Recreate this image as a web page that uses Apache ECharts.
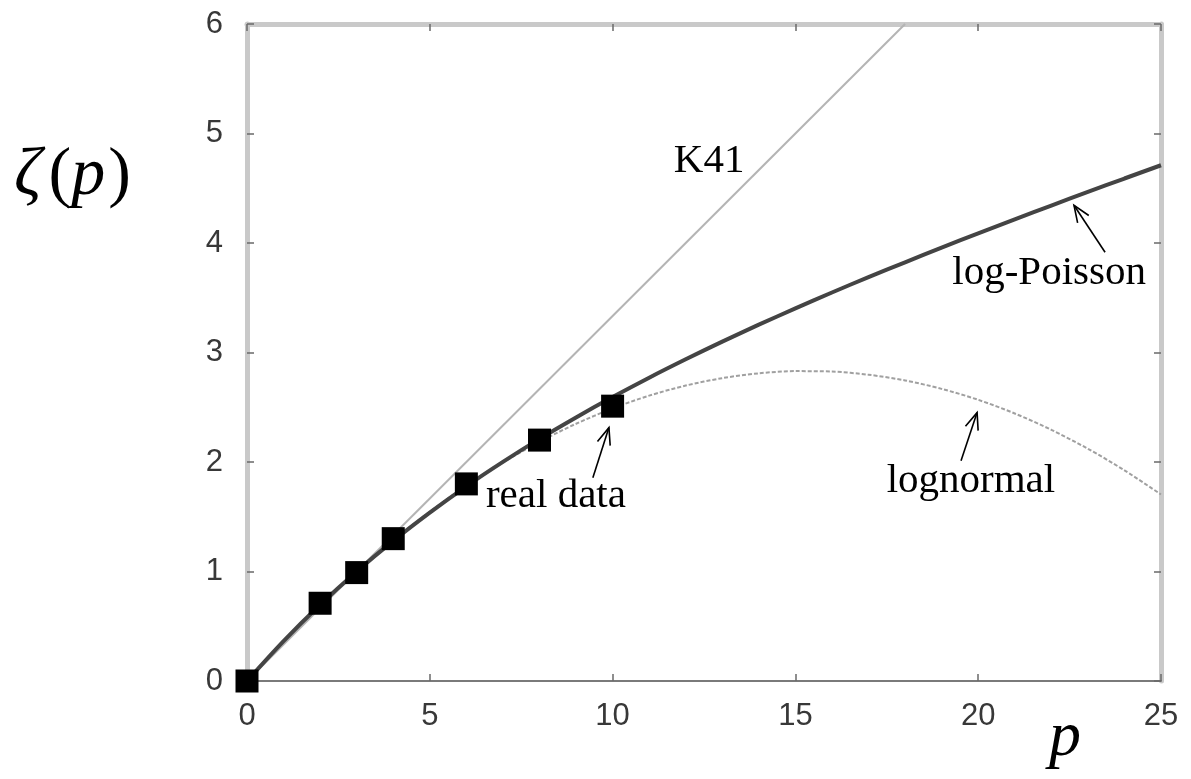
<!DOCTYPE html>
<html>
<head>
<meta charset="utf-8">
<style>
html,body{margin:0;padding:0;background:#fff}
#chart{width:1191px;height:779px}
</style>
<script src="https://cdn.jsdelivr.net/npm/echarts@6/dist/echarts.min.js"></script>
</head>
<body>
<div id="chart"></div>
<script>
// Moment order p for the model curves
const pGrid = [0,1,2,3,4,5,6,7,8,9,10,11,12,13,14,15,16,17,18,19,20,21,22,23,24,25];
// log-Poisson scaling exponents
const logPoisson = [0,0.364,0.696,1.000,1.280,1.538,1.778,2.001,2.211,2.407,2.593,2.770,2.938,3.099,3.254,3.403,3.548,3.688,3.824,3.958,4.088,4.216,4.342,4.466,4.589,4.710];
// lognormal scaling exponents
const lognormal = [0,0.357,0.691,1.000,1.285,1.546,1.783,1.996,2.184,2.349,2.489,2.606,2.698,2.766,2.810,2.830,2.826,2.797,2.745,2.668,2.568,2.443,2.294,2.121,1.924,1.703];
// K41 straight line (end points)
const k41P = [0, 18];
const k41Zeta = [0, 6];
// measured exponents
const dataP = [0, 2, 3, 4, 6, 8, 10];
const dataZeta = [0, 0.71, 0.99, 1.30, 1.80, 2.20, 2.51];
// axis ticks
const xTicks = [0, 5, 10, 15, 20, 25];
const yTicks = [0, 1, 2, 3, 4, 5, 6];
// curve labels: text and centre (data units)
const noteText = ['K41', 'log-Poisson', 'lognormal', 'real data'];
const noteAt = [[12.64, 4.75], [21.94, 3.72], [19.80, 1.82], [8.45, 1.683]];
// pointer arrows: tail -> tip (data units)
const arrowFrom = [[23.47, 3.915], [19.53, 2.012], [9.46, 1.857]];
const arrowTo = [[22.62, 4.345], [19.97, 2.451], [9.90, 2.314]];

const zip = (a, b) => a.map((v, i) => [v, b[i]]);

const chart = echarts.init(document.getElementById('chart'), null, {renderer: 'canvas'});

const tickStyle = {show: true, inside: true, length: 7, lineStyle: {color: '#6a6a6a', width: 1.5}};
const frameLine = {show: true, lineStyle: {color: '#c9c9c9', width: 5}};
const labelStyle = {color: '#383838', fontSize: 31, fontFamily: '"Liberation Sans", Arial, sans-serif'};

const xMin = xTicks[0], xMax = xTicks[xTicks.length - 1];
const yMin = yTicks[0], yMax = yTicks[yTicks.length - 1];
const xStep = xTicks[1] - xTicks[0], yStep = yTicks[1] - yTicks[0];

chart.setOption({
  animation: false,
  backgroundColor: '#ffffff',
  grid: {left: 247, right: 30, top: 24, bottom: 98, show: false},
  xAxis: [
    {type: 'value', position: 'bottom', min: xMin, max: xMax, interval: xStep,
     axisLine: {show: true, onZero: false, lineStyle: {color: '#7a7a7a', width: 2}},
     axisTick: tickStyle, splitLine: {show: false},
     axisLabel: Object.assign({margin: 20}, labelStyle)},
    {type: 'value', position: 'top', min: xMin, max: xMax, interval: xStep,
     axisLine: Object.assign({onZero: false}, frameLine), axisTick: tickStyle,
     splitLine: {show: false}, axisLabel: {show: false}}
  ],
  yAxis: [
    {type: 'value', position: 'left', min: yMin, max: yMax, interval: yStep,
     axisLine: Object.assign({onZero: false}, frameLine), axisTick: tickStyle,
     splitLine: {show: false},
     axisLabel: Object.assign({margin: 24}, labelStyle)},
    {type: 'value', position: 'right', min: yMin, max: yMax, interval: yStep,
     axisLine: Object.assign({onZero: false}, frameLine), axisTick: tickStyle,
     splitLine: {show: false}, axisLabel: {show: false}}
  ],
  series: [
    {name: 'K41', type: 'line', data: zip(k41P, k41Zeta), showSymbol: false, symbol: 'none',
     clip: true, z: 2, lineStyle: {color: '#b4b4b4', width: 2}},
    {name: 'lognormal', type: 'line', data: zip(pGrid, lognormal), symbol: 'none', smooth: 0.3,
     clip: true, z: 3, lineStyle: {color: '#a0a0a0', width: 2, type: [4, 2]}},
    {name: 'log-Poisson', type: 'line', data: zip(pGrid, logPoisson), symbol: 'none', smooth: 0.3,
     clip: true, z: 4, lineStyle: {color: '#444444', width: 4}},
    {name: 'real data', type: 'scatter', data: zip(dataP, dataZeta), symbol: 'rect',
     symbolSize: 23, clip: false, z: 6, itemStyle: {color: '#000000', opacity: 1}}
  ]
});

// annotations: labels, arrows and axis titles
function px(pt) { return chart.convertToPixel({seriesIndex: 2}, pt); }

const graphics = [];
noteText.forEach((t, i) => {
  const c = px(noteAt[i]);
  graphics.push({type: 'text', x: c[0], y: c[1], z: 10, silent: true,
    style: {text: t, fill: '#000', font: '41px "Liberation Serif", "Times New Roman", serif',
            align: 'center', verticalAlign: 'middle'}});
});
arrowFrom.forEach((f, i) => {
  const a = px(f), b = px(arrowTo[i]);
  const ang = Math.atan2(a[1] - b[1], a[0] - b[0]);
  const L = 18, h = 0.38;
  const w1 = [b[0] + L * Math.cos(ang + h), b[1] + L * Math.sin(ang + h)];
  const w2 = [b[0] + L * Math.cos(ang - h), b[1] + L * Math.sin(ang - h)];
  graphics.push({type: 'polyline', z: 10, silent: true, shape: {points: [a, b]},
    style: {stroke: '#000', lineWidth: 1.6, fill: null}});
  graphics.push({type: 'polyline', z: 10, silent: true, shape: {points: [w1, b, w2]},
    style: {stroke: '#000', lineWidth: 1.6, fill: null}});
});
graphics.push({type: 'text', x: 14, y: 176, z: 10, silent: true,
  style: {text: '{z|ζ}{r|(}{i|p}{c|)}', align: 'left', verticalAlign: 'middle',
    rich: {
      z: {fontSize: 68, fontStyle: 'italic', fontFamily: '"Liberation Serif", serif', fill: '#000', padding: [0, 7, 0, 0]},
      i: {fontSize: 68, fontStyle: 'italic', fontFamily: '"Liberation Serif", serif', fill: '#000', padding: [0, 3, 0, 0]},
      r: {fontSize: 68, fontFamily: '"Liberation Serif", serif', fill: '#000'},
      c: {fontSize: 68, fontFamily: '"Liberation Serif", serif', fill: '#000'}
    }}});
graphics.push({type: 'text', x: 1065, y: 738, z: 10, silent: true,
  style: {text: 'p', fill: '#000', font: 'italic 64px "Liberation Serif", serif',
          align: 'center', verticalAlign: 'middle'}});

chart.setOption({graphic: graphics});
</script>
</body>
</html>
